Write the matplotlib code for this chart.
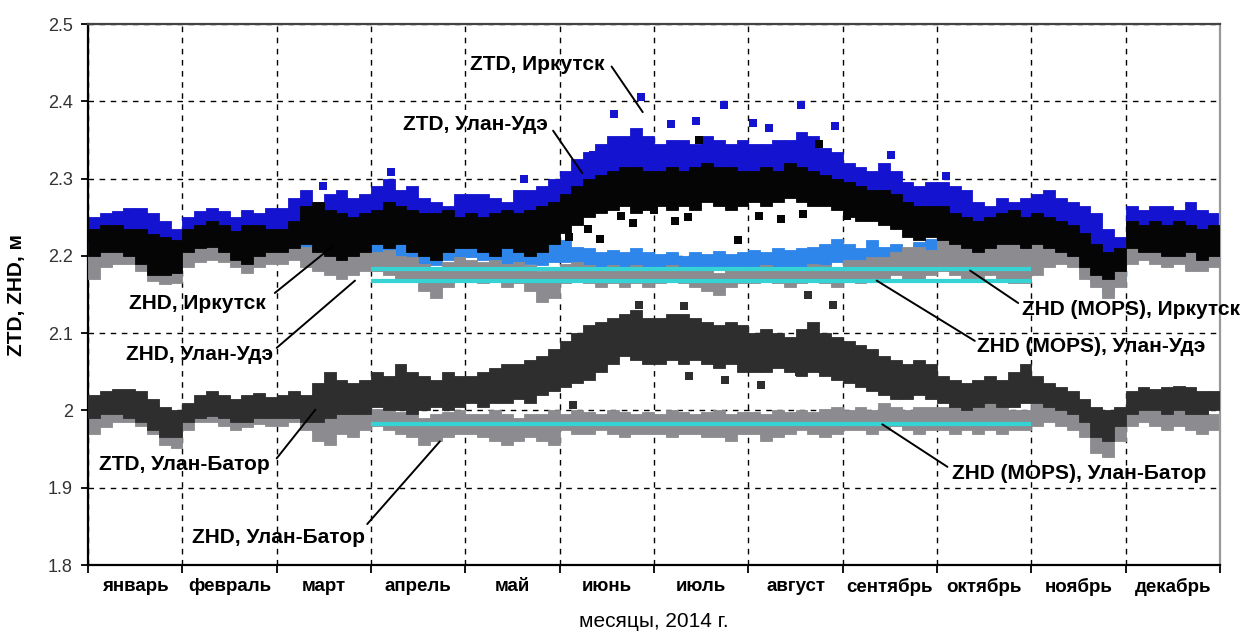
import numpy as np
import matplotlib
matplotlib.use("Agg")
import matplotlib.pyplot as plt

plt.rcParams['font.family'] = ['Liberation Sans', 'DejaVu Sans']

months = ['январь', 'февраль', 'март', 'апрель', 'май', 'июнь', 'июль',
          'август', 'сентябрь', 'октябрь', 'ноябрь', 'декабрь']

# time of each sample, in months from 1 Jan 2014 (8 samples per month)
t = (np.arange(96) + 0.5) / 8

# ZTD, Иркутск
ztd_irk_top = [
    2.250, 2.255, 2.258, 2.262, 2.262, 2.255, 2.245, 2.235,
    2.250, 2.258, 2.262, 2.258, 2.250, 2.260, 2.255, 2.262,
    2.262, 2.275, 2.285, 2.270, 2.280, 2.285, 2.275, 2.280,
    2.290, 2.300, 2.285, 2.290, 2.275, 2.270, 2.265, 2.280,
    2.280, 2.280, 2.275, 2.270, 2.285, 2.285, 2.290, 2.300,
    2.310, 2.325, 2.335, 2.345, 2.355, 2.355, 2.365, 2.355,
    2.345, 2.350, 2.350, 2.345, 2.355, 2.350, 2.345, 2.350,
    2.345, 2.345, 2.350, 2.350, 2.360, 2.355, 2.340, 2.335,
    2.320, 2.315, 2.310, 2.320, 2.310, 2.295, 2.290, 2.295,
    2.295, 2.290, 2.285, 2.270, 2.265, 2.275, 2.270, 2.275,
    2.280, 2.285, 2.275, 2.270, 2.265, 2.255, 2.235, 2.225,
    2.265, 2.260, 2.265, 2.265, 2.260, 2.270, 2.260, 2.255]
ztd_irk_bot = [
    2.225, 2.228, 2.230, 2.230, 2.228, 2.222, 2.215, 2.210,
    2.222, 2.228, 2.230, 2.228, 2.222, 2.225, 2.225, 2.228,
    2.228, 2.232, 2.240, 2.238, 2.235, 2.232, 2.230, 2.235,
    2.238, 2.242, 2.240, 2.236, 2.232, 2.230, 2.230, 2.235,
    2.235, 2.232, 2.232, 2.235, 2.238, 2.240, 2.245, 2.255,
    2.265, 2.275, 2.285, 2.290, 2.295, 2.295, 2.295, 2.290,
    2.290, 2.292, 2.290, 2.290, 2.295, 2.292, 2.290, 2.290,
    2.290, 2.292, 2.295, 2.295, 2.295, 2.292, 2.285, 2.280,
    2.265, 2.262, 2.258, 2.260, 2.255, 2.245, 2.240, 2.240,
    2.240, 2.235, 2.230, 2.225, 2.225, 2.228, 2.230, 2.228,
    2.230, 2.228, 2.225, 2.222, 2.215, 2.205, 2.195, 2.195,
    2.225, 2.222, 2.225, 2.222, 2.225, 2.225, 2.220, 2.222]

# ZTD, Улан-Удэ
ztd_uu_top = [
    2.235, 2.240, 2.240, 2.235, 2.235, 2.228, 2.225, 2.220,
    2.235, 2.240, 2.245, 2.240, 2.232, 2.240, 2.240, 2.235,
    2.235, 2.245, 2.265, 2.270, 2.260, 2.255, 2.250, 2.255,
    2.260, 2.270, 2.265, 2.260, 2.255, 2.255, 2.260, 2.250,
    2.255, 2.250, 2.255, 2.260, 2.255, 2.260, 2.265, 2.270,
    2.280, 2.290, 2.300, 2.305, 2.310, 2.315, 2.315, 2.310,
    2.310, 2.315, 2.310, 2.315, 2.320, 2.315, 2.315, 2.310,
    2.310, 2.315, 2.310, 2.320, 2.315, 2.310, 2.305, 2.300,
    2.295, 2.290, 2.285, 2.285, 2.280, 2.270, 2.265, 2.265,
    2.265, 2.255, 2.250, 2.245, 2.250, 2.255, 2.260, 2.250,
    2.255, 2.250, 2.245, 2.240, 2.230, 2.215, 2.205, 2.210,
    2.245, 2.240, 2.245, 2.240, 2.245, 2.240, 2.235, 2.240]
ztd_uu_bot = [
    2.200, 2.205, 2.205, 2.200, 2.190, 2.175, 2.175, 2.178,
    2.205, 2.210, 2.212, 2.205, 2.195, 2.190, 2.200, 2.205,
    2.205, 2.210, 2.215, 2.205, 2.200, 2.195, 2.200, 2.205,
    2.215, 2.210, 2.215, 2.205, 2.200, 2.195, 2.205, 2.210,
    2.210, 2.205, 2.200, 2.210, 2.205, 2.200, 2.205, 2.215,
    2.230, 2.240, 2.250, 2.255, 2.260, 2.265, 2.255, 2.260,
    2.265, 2.260, 2.265, 2.260, 2.270, 2.265, 2.260, 2.265,
    2.270, 2.265, 2.270, 2.275, 2.270, 2.265, 2.265, 2.260,
    2.250, 2.245, 2.245, 2.240, 2.235, 2.225, 2.220, 2.225,
    2.220, 2.215, 2.210, 2.205, 2.210, 2.215, 2.215, 2.210,
    2.215, 2.210, 2.205, 2.200, 2.185, 2.175, 2.170, 2.180,
    2.210, 2.205, 2.205, 2.200, 2.200, 2.205, 2.195, 2.200]

# ZHD, Иркутск
zhd_irk_top = [
    2.218, 2.222, 2.225, 2.222, 2.218, 2.210, 2.205, 2.205,
    2.215, 2.220, 2.222, 2.220, 2.215, 2.212, 2.218, 2.220,
    2.220, 2.222, 2.225, 2.228, 2.225, 2.230, 2.225, 2.228,
    2.228, 2.232, 2.225, 2.228, 2.222, 2.218, 2.222, 2.225,
    2.225, 2.222, 2.220, 2.218, 2.222, 2.220, 2.218, 2.222,
    2.220, 2.212, 2.210, 2.205, 2.208, 2.205, 2.210, 2.205,
    2.202, 2.205, 2.200, 2.205, 2.202, 2.206, 2.203, 2.205,
    2.207, 2.205, 2.210, 2.207, 2.210, 2.212, 2.215, 2.222,
    2.215, 2.210, 2.220, 2.212, 2.215, 2.210, 2.218, 2.222,
    2.225, 2.235, 2.230, 2.222, 2.220, 2.222, 2.218, 2.215,
    2.218, 2.222, 2.215, 2.208, 2.198, 2.188, 2.180, 2.185,
    2.205, 2.205, 2.205, 2.205, 2.205, 2.205, 2.202, 2.205]
zhd_irk_bot = [
    2.195, 2.200, 2.200, 2.198, 2.195, 2.185, 2.180, 2.182,
    2.192, 2.198, 2.200, 2.198, 2.192, 2.188, 2.195, 2.198,
    2.198, 2.200, 2.200, 2.202, 2.200, 2.198, 2.195, 2.200,
    2.200, 2.205, 2.198, 2.195, 2.190, 2.188, 2.195, 2.198,
    2.198, 2.195, 2.192, 2.190, 2.192, 2.190, 2.188, 2.192,
    2.192, 2.188, 2.185, 2.183, 2.185, 2.183, 2.185, 2.183,
    2.180, 2.182, 2.180, 2.182, 2.180, 2.183, 2.180, 2.182,
    2.183, 2.182, 2.185, 2.183, 2.185, 2.187, 2.188, 2.192,
    2.190, 2.188, 2.192, 2.188, 2.190, 2.188, 2.192, 2.195,
    2.198, 2.205, 2.202, 2.195, 2.192, 2.195, 2.192, 2.190,
    2.192, 2.195, 2.195, 2.192, 2.178, 2.168, 2.152, 2.165,
    2.198, 2.200, 2.198, 2.195, 2.198, 2.195, 2.192, 2.195]

# ZHD, Улан-Удэ
zhd_uu_top = [
    2.210, 2.215, 2.218, 2.215, 2.210, 2.200, 2.195, 2.195,
    2.208, 2.212, 2.215, 2.212, 2.208, 2.205, 2.210, 2.212,
    2.212, 2.215, 2.212, 2.210, 2.205, 2.200, 2.205, 2.208,
    2.205, 2.208, 2.200, 2.198, 2.190, 2.185, 2.192, 2.198,
    2.195, 2.192, 2.195, 2.190, 2.192, 2.188, 2.180, 2.182,
    2.190, 2.192, 2.188, 2.185, 2.188, 2.185, 2.188, 2.185,
    2.185, 2.188, 2.185, 2.183, 2.180, 2.178, 2.182, 2.185,
    2.185, 2.188, 2.186, 2.183, 2.186, 2.190, 2.188, 2.185,
    2.195, 2.195, 2.198, 2.198, 2.205, 2.212, 2.212, 2.208,
    2.220, 2.225, 2.225, 2.220, 2.225, 2.230, 2.225, 2.220,
    2.225, 2.230, 2.225, 2.220, 2.210, 2.200, 2.190, 2.195,
    2.215, 2.220, 2.218, 2.215, 2.218, 2.215, 2.210, 2.212]
zhd_uu_bot = [
    2.170, 2.185, 2.190, 2.190, 2.180, 2.168, 2.163, 2.165,
    2.185, 2.192, 2.195, 2.192, 2.185, 2.178, 2.185, 2.190,
    2.190, 2.195, 2.185, 2.180, 2.175, 2.170, 2.175, 2.180,
    2.180, 2.175, 2.170, 2.170, 2.155, 2.145, 2.160, 2.170,
    2.170, 2.165, 2.170, 2.160, 2.165, 2.155, 2.140, 2.145,
    2.165, 2.170, 2.165, 2.160, 2.165, 2.160, 2.165, 2.160,
    2.165, 2.170, 2.165, 2.160, 2.155, 2.150, 2.160, 2.165,
    2.165, 2.170, 2.165, 2.160, 2.165, 2.170, 2.165, 2.160,
    2.170, 2.165, 2.170, 2.170, 2.175, 2.170, 2.170, 2.175,
    2.180, 2.175, 2.170, 2.170, 2.175, 2.170, 2.165, 2.165,
    2.175, 2.185, 2.190, 2.185, 2.170, 2.160, 2.145, 2.160,
    2.190, 2.195, 2.190, 2.185, 2.190, 2.180, 2.180, 2.185]

# ZTD, Улан-Батор
ztd_ub_top = [
    2.020, 2.025, 2.028, 2.028, 2.025, 2.015, 2.005, 2.000,
    2.010, 2.020, 2.025, 2.020, 2.015, 2.020, 2.022, 2.018,
    2.020, 2.025, 2.020, 2.035, 2.050, 2.040, 2.035, 2.040,
    2.050, 2.045, 2.060, 2.050, 2.045, 2.040, 2.050, 2.045,
    2.045, 2.050, 2.055, 2.060, 2.060, 2.065, 2.070, 2.080,
    2.090, 2.100, 2.110, 2.115, 2.120, 2.125, 2.130, 2.120,
    2.120, 2.125, 2.125, 2.120, 2.115, 2.110, 2.115, 2.110,
    2.100, 2.105, 2.100, 2.095, 2.105, 2.115, 2.100, 2.095,
    2.090, 2.085, 2.080, 2.070, 2.065, 2.060, 2.065, 2.060,
    2.045, 2.040, 2.035, 2.040, 2.045, 2.040, 2.050, 2.060,
    2.045, 2.035, 2.030, 2.025, 2.015, 2.005, 2.000, 2.005,
    2.025, 2.030, 2.028, 2.030, 2.032, 2.030, 2.025, 2.025]
ztd_ub_bot = [
    1.990, 1.995, 1.995, 1.990, 1.985, 1.975, 1.965, 1.965,
    1.985, 1.990, 1.993, 1.990, 1.985, 1.985, 1.990, 1.990,
    1.990, 1.990, 1.985, 1.985, 1.990, 1.995, 1.995, 1.995,
    2.005, 2.000, 2.000, 1.995, 2.000, 2.005, 2.000, 2.005,
    2.010, 2.005, 2.010, 2.010, 2.015, 2.010, 2.020, 2.025,
    2.030, 2.035, 2.040, 2.050, 2.060, 2.070, 2.065, 2.060,
    2.060, 2.065, 2.060, 2.065, 2.060, 2.055, 2.060, 2.050,
    2.050, 2.050, 2.055, 2.050, 2.045, 2.050, 2.045, 2.040,
    2.035, 2.030, 2.025, 2.020, 2.015, 2.015, 2.020, 2.015,
    2.010, 2.005, 2.000, 2.005, 2.010, 2.005, 2.005, 2.010,
    2.010, 2.005, 2.000, 1.995, 1.985, 1.965, 1.960, 1.980,
    1.995, 2.000, 2.000, 1.995, 2.000, 1.995, 1.995, 2.000]

# ZHD, Улан-Батор
zhd_ub_top = [
    1.995, 2.000, 2.000, 1.998, 1.995, 1.990, 1.985, 1.980,
    1.995, 1.998, 2.000, 1.998, 1.995, 1.995, 1.998, 1.998,
    1.998, 2.000, 1.998, 2.000, 2.010, 2.005, 2.000, 2.002,
    2.002, 2.000, 1.998, 1.995, 1.990, 1.995, 1.998, 2.000,
    1.995, 1.995, 2.000, 1.995, 1.990, 1.995, 1.995, 2.000,
    1.995, 2.000, 1.998, 1.995, 2.000, 1.998, 1.995, 1.998,
    1.995, 2.000, 1.998, 1.995, 1.998, 2.000, 1.995, 1.998,
    1.998, 1.995, 2.000, 1.998, 2.000, 1.998, 2.002, 2.005,
    2.000, 2.005, 2.000, 2.010, 2.005, 2.000, 2.005, 2.005,
    2.005, 2.010, 2.000, 2.005, 2.010, 2.005, 2.000, 2.000,
    2.010, 2.015, 2.010, 2.005, 1.995, 1.985, 1.975, 1.990,
    2.000, 2.005, 2.000, 2.000, 2.005, 2.000, 2.000, 1.995]
zhd_ub_bot = [
    1.970, 1.978, 1.985, 1.985, 1.980, 1.970, 1.955, 1.952,
    1.975, 1.985, 1.985, 1.980, 1.975, 1.978, 1.982, 1.980,
    1.980, 1.985, 1.975, 1.960, 1.955, 1.970, 1.965, 1.975,
    1.980, 1.975, 1.970, 1.965, 1.955, 1.960, 1.965, 1.970,
    1.970, 1.965, 1.960, 1.955, 1.960, 1.965, 1.960, 1.955,
    1.975, 1.970, 1.970, 1.975, 1.970, 1.965, 1.970, 1.970,
    1.970, 1.965, 1.970, 1.970, 1.965, 1.965, 1.960, 1.970,
    1.970, 1.960, 1.965, 1.970, 1.975, 1.970, 1.965, 1.970,
    1.975, 1.975, 1.970, 1.975, 1.980, 1.975, 1.970, 1.975,
    1.975, 1.970, 1.975, 1.970, 1.975, 1.970, 1.975, 1.975,
    1.980, 1.985, 1.980, 1.975, 1.965, 1.945, 1.940, 1.960,
    1.980, 1.985, 1.980, 1.975, 1.980, 1.975, 1.970, 1.975]

# single scattered values (month, metres)
irk_ztd_out_t = [2.49, 3.21, 4.62, 5.35, 5.58, 5.86, 6.18, 6.44, 6.74, 7.05,
                 7.22, 7.56, 7.92, 8.51, 9.10]
irk_ztd_out_v = [2.290, 2.308, 2.300, 2.330, 2.384, 2.406, 2.370, 2.375, 2.395, 2.372,
                 2.365, 2.395, 2.368, 2.330, 2.304]
uu_ztd_out_t = [5.10, 5.30, 5.43, 5.65, 5.78, 6.00, 6.22, 6.36, 6.48, 6.89, 7.11,
                7.35, 7.58, 7.75, 8.05]
uu_ztd_out_v = [2.225, 2.235, 2.222, 2.252, 2.243, 2.260, 2.245, 2.250, 2.350, 2.220, 2.252,
                2.248, 2.254, 2.345, 2.252]
ub_ztd_out_t = [5.14, 5.84, 6.32, 6.37, 6.75, 7.13, 7.54, 7.63, 7.90]
ub_ztd_out_v = [2.007, 2.137, 2.135, 2.045, 2.040, 2.033, 2.050, 2.150, 2.137]

# ZHD (MOPS): constant for April - October
mops_v = [2.183, 2.168, 1.983]
mops_start, mops_end = 3, 10

c_blue = '#1414d0'
c_lblue = '#2f86ea'
c_gray = '#8c8c90'
c_black = '#050505'
c_dark = '#2e2e2e'
c_cyan = '#35d3d3'

fig = plt.figure(figsize=(12.52, 6.39), dpi=100)
ax = fig.add_axes([0.0703, 0.1158, 0.9042, 0.8466])


def band(top, bot, color, z):
    top = np.array(top)
    bot = np.array(bot)
    ax.bar(t, top - bot, bottom=bot, width=0.125, color=color,
           edgecolor=color, linewidth=0.6, zorder=z)


band(ztd_irk_top, ztd_irk_bot, c_blue, 2)
ax.scatter(irk_ztd_out_t, irk_ztd_out_v, marker='s', s=40, color=c_blue, lw=0, zorder=2)
band(zhd_irk_top, zhd_irk_bot, c_lblue, 3)
band(zhd_uu_top, zhd_uu_bot, c_gray, 4)
band(ztd_uu_top, ztd_uu_bot, c_black, 5)
ax.scatter(uu_ztd_out_t, uu_ztd_out_v, marker='s', s=40, color=c_black, lw=0, zorder=5)
band(zhd_ub_top, zhd_ub_bot, c_gray, 2)
band(ztd_ub_top, ztd_ub_bot, c_dark, 3)
ax.scatter(ub_ztd_out_t, ub_ztd_out_v, marker='s', s=40, color=c_dark, lw=0, zorder=3)

ax.hlines(mops_v, mops_start, mops_end, colors=c_cyan, lw=3, zorder=6)

ax.set_xlim(0, 12)
ax.set_ylim(1.8, 2.5)
ax.set_xticks(np.arange(13))
ax.set_xticklabels([])
ax.set_xticks(np.arange(12) + 0.5, minor=True)
ax.set_xticklabels(months, minor=True, fontsize=13.5, fontweight='bold')
ax.tick_params(axis='x', which='minor', length=0, pad=9)
ax.tick_params(axis='x', which='major', length=6, width=1.3, direction='out')
yt = [1.8, 1.9, 2.0, 2.1, 2.2, 2.3, 2.4, 2.5]
ax.set_yticks(yt)
ax.set_yticklabels(['1.8', '1.9', '2', '2.1', '2.2', '2.3', '2.4', '2.5'],
                   fontsize=13, color='#333333')
ax.tick_params(axis='y', length=5, width=1.3, pad=6)

ax.set_axisbelow(True)
ax.grid(True, which='major', color='black', lw=1.0, ls=(0, (4, 4)))
for side in ['left', 'bottom']:
    ax.spines[side].set_linewidth(1.6)
ax.spines['top'].set_linewidth(1.6)
ax.spines['top'].set_color('#444444')
ax.spines['right'].set_linewidth(1.6)
ax.spines['right'].set_color('#999999')

ax.set_xlabel('месяцы, 2014 г.', fontsize=15, labelpad=12)
ax.set_ylabel('ZTD, ZHD, м', fontsize=15, fontweight='bold', labelpad=16)

lab = dict(fontsize=15, fontweight='bold', va='center', zorder=8)
line = dict(arrowstyle='-', color='black', lw=1.4, shrinkA=0, shrinkB=0)

notes = [
    ('ZTD, Иркутск', 4.05, 2.448, 'left', (5.55, 2.445), (5.88, 2.386)),
    ('ZTD, Улан-Удэ', 4.87, 2.370, 'right', (4.93, 2.362), (5.24, 2.307)),
    ('ZHD, Иркутск', 1.88, 2.138, 'right', (1.98, 2.152), (2.60, 2.213)),
    ('ZHD, Улан-Удэ', 1.96, 2.073, 'right', (2.00, 2.081), (2.83, 2.168)),
    ('ZTD, Улан-Батор', 1.93, 1.930, 'right', (2.00, 1.938), (2.41, 2.001)),
    ('ZHD, Улан-Батор', 2.94, 1.836, 'right', (2.96, 1.853), (3.73, 1.960)),
    ('ZHD (MOPS), Иркутск', 9.90, 2.131, 'left', (9.86, 2.139), (9.35, 2.181)),
    ('ZHD (MOPS), Улан-Удэ', 9.42, 2.083, 'left', (9.40, 2.090), (8.36, 2.168)),
    ('ZHD (MOPS), Улан-Батор', 9.16, 1.919, 'left', (9.11, 1.927), (8.42, 1.982)),
]
for txt, x, y, ha, p0, p1 in notes:
    ax.text(x, y, txt, ha=ha, clip_on=False, **lab)
    ax.annotate('', xy=p1, xytext=p0, arrowprops=line, zorder=8)

fig.savefig('out.png', dpi=100)
